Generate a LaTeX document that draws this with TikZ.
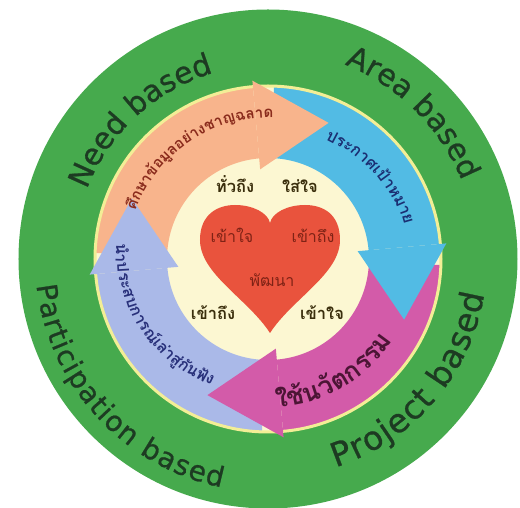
\documentclass[tikz,border=0pt]{standalone}
\usepackage{fontspec}
\setmainfont{DejaVu Sans}
\newfontfamily\thai[Script=Thai]{Loma}
\newfontfamily\latin[FakeBold=0.8]{DejaVu Sans}
\definecolor{ringgreen}{HTML}{46AA4D}
\definecolor{cream}{HTML}{FCF7D2}
\definecolor{ringline}{HTML}{F3EE96}
\definecolor{orangeA}{HTML}{F8B48C}
\definecolor{blueA}{HTML}{52BBE4}
\definecolor{magA}{HTML}{D35BA9}
\definecolor{lavA}{HTML}{AAB9E8}
\definecolor{heartred}{HTML}{E9533D}
\definecolor{ortext}{HTML}{8A2B1C}
\definecolor{bltext}{HTML}{1B2F73}
\definecolor{magtext}{HTML}{4C1535}
\definecolor{lavtext}{HTML}{28307A}
\definecolor{centertext}{HTML}{3A2E0C}
\definecolor{hearttext}{HTML}{7E2215}
\definecolor{outertext}{HTML}{1D3B22}
\newdimen\clw
\newdimen\totw
\newdimen\cumw
\newbox\clbox
\gdef\arcnodes{}
\def\spc{~}
% measured in the preamble, placed later in the picture
% #1 name prefix, #2 font cmds, #3 colour, #4 R start, #5 R end, #6 start angle, #7 dir, #8 tracking, #9 list
\newcommand\arctext[9]{%
  \global\totw=0pt
  \foreach \cl in {#9}{\setbox\clbox=\hbox{#2\cl}\global\advance\totw by \wd\clbox\global\advance\totw by #8pt}%
  \ifdim\totw<1pt \global\totw=1pt \fi
  \xdef\curang{#6}%
  \global\cumw=0pt
  \foreach \cl [count=\i] in {#9}{%
    \setbox\clbox=\hbox{#2\cl}\global\clw=\wd\clbox
    \pgfmathsetmacro\rr{#4+(#5-#4)*(\cumw+0.5*\clw)/\totw}%
    \pgfmathsetmacro\dang{(\clw+#8)/\rr*57.29578}%
    \pgfmathsetmacro\midang{\curang+(#7)*(\clw/2)/\rr*57.29578}%
    \pgfmathsetmacro\rot{\midang+(#7)*90}%
    \ifx\cl\spc\else
    \xdef\arcnodes{\unexpanded\expandafter{\arcnodes}\noexpand\node[name=#1\i, anchor=base, inner sep=0pt, outer sep=0pt, text=#3, rotate=\rot] at (\midang:\rr) {\unexpanded{#2}\unexpanded\expandafter{\cl}};}%
    \fi
    \pgfmathsetmacro\nxt{\curang+(#7)*\dang}%
    \global\let\curang\nxt
    \global\advance\cumw by \clw
    \global\advance\cumw by #8pt
  }%
}
\arctext{ora}{\thai\bfseries\fontsize{15}{15}\selectfont}{ortext}{141}{141}{160}{-1}{0}{ศึ,ก,ษ,า,ข้,อ,มู,ล,อ,ย่,า,ง,ช,า,ญ,ฉ,ล,า,ด}
\arctext{blu}{\thai\bfseries\fontsize{16}{16}\selectfont}{bltext}{132}{141}{64.5}{-1}{0}{ป,ร,ะ,ก,า,ศ,เ,ป้,า,ห,ม,า,ย}
\arctext{mag}{\thai\bfseries\fontsize{26}{26}\selectfont}{magtext}{149}{149}{-87}{1}{0}{ใ,ช้,น,วั,ต,ก,ร,ร,ม}
\arctext{lav}{\thai\bfseries\fontsize{16}{16}\selectfont}{lavtext}{153}{138}{174}{1}{0}{นำ,ป,ร,ะ,ส,บ,ก,า,ร,ณ์,เ,ล่,า,สู่,กั,น,ฟั,ง}
\arctext{need}{\latin\fontsize{30}{30}\selectfont}{outertext}{194}{194}{159}{-1}{0}{N,e,e,d,~,b,a,s,e,d}
\arctext{area}{\latin\fontsize{30}{30}\selectfont}{outertext}{209}{209}{68.5}{-1}{0}{A,r,e,a,~,b,a,s,e,d}
\arctext{proj}{\latin\fontsize{33}{33}\selectfont}{outertext}{219}{219}{-72}{1}{1.3}{P,r,o,j,e,c,t,~,b,a,s,e,d}
\arctext{part}{\latin\fontsize{28}{28}\selectfont}{outertext}{233}{233}{186.5}{1}{1.3}{P,a,r,t,i,c,i,p,a,t,i,o,n,~,b,a,s,e,d}
\tikzset{
  ctr/.style={font=\thai\bfseries\fontsize{16.5}{16.5}\selectfont, text=centertext, anchor=base, inner sep=0pt},
  hrt/.style={font=\thai\fontsize{16}{16}\selectfont, text=hearttext, anchor=base, inner sep=0pt},
}
\begin{document}
\begin{tikzpicture}[x=1pt,y=1pt]
\useasboundingbox (-268,-249) rectangle (252,259);
\fill[white] (-268,-249) rectangle (252,259);
\fill[ringgreen] (0,0) circle (249.5);
\fill[cream] (0,0) circle (173);
% arrow bodies
\foreach \k/\col in {0/orangeA,1/blueA,2/magA,3/lavA}{%
  \pgfmathsetmacro\T{178-90*\k}%
  \pgfmathsetmacro\B{95-90*\k}%
  \fill[\col] (\T:173) arc[start angle=\T, end angle=\B, radius=173] -- (\B:101) arc[start angle=\B, end angle=\T, radius=101] -- cycle;
}
\draw[ringline, line width=3pt] (0,0) circle (173);
% arrow heads
\foreach \k/\col in {0/orangeA,1/blueA,2/magA,3/lavA}{%
  \pgfmathsetmacro\B{95-90*\k}%
  \pgfmathsetmacro\P{66-90*\k}%
  \fill[\col] (\B:179) -- (\P:149) -- (\B:90) -- cycle;
}
% heart
\fill[heartred] (2,-74) .. controls (-20,-40) and (-68,-15) .. (-68,19) .. controls (-68,45) and (-50,54) .. (-33,54) .. controls (-15,54) and (0,46) .. (2,36) .. controls (4,46) and (19,54) .. (37,54) .. controls (55,54) and (72,45) .. (72,19) .. controls (72,-15) and (24,-40) .. (2,-74) -- cycle;
% center words
\node[ctr] (w1) at (-33,66) {ทั่วถึง};
\node[ctr] (w2) at (32,66) {ใส่ใจ};
\node[hrt] (h1) at (-36,16) {เข้าใจ};
\node[hrt] (h2) at (45,16) {เข้าถึง};
\node[hrt] (h3) at (4,-28) {พัฒนา};
\node[ctr] (w3) at (-55,-61) {เข้าถึง};
\node[ctr] (w4) at (54,-61) {เข้าใจ};
% texts along the arrows and the green ring
\arcnodes
\end{tikzpicture}
\end{document}
